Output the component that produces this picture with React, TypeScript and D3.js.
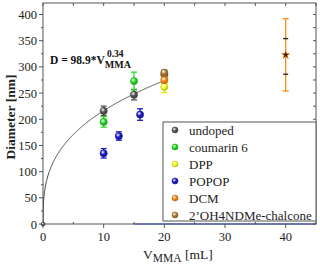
import React from 'react';
import * as d3 from 'd3';

const width = 320;
const height = 268;
const margin = {top: 3, right: 4, bottom: 44, left: 43};
const font = '"Liberation Serif", "Times New Roman", serif';

// series names and colors (legend order)
const seriesNames = ['undoped', 'coumarin 6', 'DPP', 'POPOP', 'DCM', '2\u2019OH4NDMe-chalcone'];
const seriesColors = ['#555555', '#22dd22', '#ffff22', '#1a1acc', '#ff8a10', '#b08030'];

// points: x = V_MMA [mL], y = diameter [nm], e = error
const undopedX = [0, 10, 15, 20];
const undopedY = [0, 216, 247, 285];
const undopedE = [0, 9, 10, 6];

const coumarinX = [10, 15];
const coumarinY = [195, 273];
const coumarinE = [10, 17];

const dppX = [20];
const dppY = [262];
const dppE = [11];

const popopX = [10, 12.5, 16];
const popopY = [135, 168, 209];
const popopE = [9, 8, 11];

const dcmX = [20, 40];
const dcmY = [275, 323];
const dcmE = [6, 69];

const chalconeX = [20];
const chalconeY = [289];
const chalconeE = [5];

// DCM at 40 mL box markers
const dcmBoxX = 40;
const dcmBox = [286, 354];

const xTicks = [0, 10, 20, 30, 40];
const yTicks = [0, 50, 100, 150, 200, 250, 300, 350, 400];

const fitA = 98.9;
const fitB = 0.34;

const series = [
  {x: undopedX, y: undopedY, e: undopedE},
  {x: coumarinX, y: coumarinY, e: coumarinE},
  {x: dppX, y: dppY, e: dppE},
  {x: popopX, y: popopY, e: popopE},
  {x: dcmX, y: dcmY, e: dcmE},
  {x: chalconeX, y: chalconeY, e: chalconeE},
];
// draw order so the ones on top in the picture come last
const drawOrder = [3, 0, 1, 2, 4, 5];

const xScale = d3.scaleLinear().domain([0, 45]).range([margin.left, width - margin.right]);
const yScale = d3.scaleLinear().domain([0, 422]).range([height - margin.bottom, margin.top]);

function Sphere({cx, cy, r, color, id}) {
  return <circle cx={cx} cy={cy} r={r} fill={`url(#g${id})`} stroke={d3.color(color).darker(0.8).toString()} strokeWidth={0.6} />;
}

export default function App() {
  const x0 = margin.left, x1 = width - margin.right;
  const y0 = height - margin.bottom, y1 = margin.top;

  const fitData = d3.range(0, 20.01, 0.05);
  const fitLine = d3.line()
    .x(d => xScale(d))
    .y(d => yScale(fitA * Math.pow(d, fitB)));

  const minorX = d3.range(0, 46, 5);
  const minorY = d3.range(0, 422, 25);

  return (
    <svg width={width} height={height} style={{position: 'absolute', left: 0, top: 0}} fontFamily={font}>
      <defs>
        {seriesColors.map((c, i) => (
          <radialGradient key={i} id={`g${i}`} cx="0.38" cy="0.35" r="0.7">
            <stop offset="0" stopColor="#ffffff" />
            <stop offset="0.45" stopColor={c} />
            <stop offset="1" stopColor={d3.color(c).darker(1).toString()} />
          </radialGradient>
        ))}
        <clipPath id="plot"><rect x={x0} y={y1} width={x1 - x0} height={y0 - y1} /></clipPath>
      </defs>

      {/* frame */}
      <rect x={x0} y={y1} width={x1 - x0} height={y0 - y1} fill="none" stroke="#555" strokeWidth={1} />
      <line x1={xScale(15)} x2={x1} y1={y0} y2={y0} stroke="#3344aa" strokeWidth={1} />

      {/* ticks */}
      {minorX.map(v => (
        <g key={'tx' + v}>
          {v % 10 === 0
            ? <line x1={xScale(v)} x2={xScale(v)} y1={y0} y2={y0 + 4} stroke="#555" />
            : <line x1={xScale(v)} x2={xScale(v)} y1={y0} y2={y0 - 2} stroke="#555" />}
          <line x1={xScale(v)} x2={xScale(v)} y1={y1} y2={y1 + 3} stroke="#555" />
        </g>
      ))}
      {minorY.map(v => (
        <g key={'ty' + v}>
          <line x1={x0} x2={x0 - (v % 50 === 0 ? 4 : 2)} y1={yScale(v)} y2={yScale(v)} stroke="#555" />
          <line x1={x1} x2={x1 - 3} y1={yScale(v)} y2={yScale(v)} stroke="#555" />
        </g>
      ))}
      {xTicks.map(v => (
        <text key={'lx' + v} x={xScale(v)} y={y0 + 17} fontSize={12.5} textAnchor="middle" fill="#222">{v}</text>
      ))}
      {yTicks.map(v => (
        <text key={'ly' + v} x={x0 - 6} y={yScale(v) + 4.5} fontSize={12.5} textAnchor="end" fill="#222">{v}</text>
      ))}

      {/* axis titles */}
      <text x={143} y={259} fontSize={13.5} fill="#222">
        V<tspan fontSize={11.5} dy={3}>MMA</tspan><tspan dy={-3}> [mL]</tspan>
      </text>
      <text transform={`translate(15, 117) rotate(-90)`} fontSize={13.5} fontWeight="bold" textAnchor="middle" fill="#222">Diameter [nm]</text>

      {/* fit */}
      <g clipPath="url(#plot)">
        <path d={fitLine(fitData)} fill="none" stroke="#444" strokeWidth={1} />
      </g>
      <text x={50} y={64} fontSize={11.5} fontWeight="bold" fill="#111">
        D = 98.9*V<tspan fontSize={10} dy={4}>MMA</tspan><tspan fontSize={9.5} dx={-24} dy={-11}>0.34</tspan>
      </text>

      {/* error bars + points */}
      {drawOrder.map(si => {
        const s = series[si];
        const c = seriesColors[si];
        return (
          <g key={'s' + si}>
            {s.x.map((xv, i) => {
              const cx = xScale(xv);
              const yt = yScale(s.y[i] + s.e[i]);
              const yb = yScale(s.y[i] - s.e[i]);
              const ec = si === 2 ? '#e8e800' : c;
              return (
                <g key={i}>
                  {s.e[i] > 0 && (
                    <g stroke={ec} strokeWidth={1.3}>
                      <line x1={cx} x2={cx} y1={yt} y2={yb} />
                      <line x1={cx - 3} x2={cx + 3} y1={yt} y2={yt} />
                      <line x1={cx - 3} x2={cx + 3} y1={yb} y2={yb} />
                    </g>
                  )}
                  {si === 4 && xv === dcmBoxX
                    ? null
                    : <Sphere cx={cx} cy={yScale(s.y[i])} r={xv === 0 ? 2 : 3.6} color={c} id={si} />}
                </g>
              );
            })}
          </g>
        );
      })}

      {/* DCM 40 mL box markers */}
      {dcmBox.map(v => (
        <line key={'b' + v} x1={xScale(dcmBoxX) - 2.5} x2={xScale(dcmBoxX) + 2.5} y1={yScale(v)} y2={yScale(v)} stroke="#222" strokeWidth={1.3} />
      ))}
      <path d={d3.symbol(d3.symbolStar, 22)()} transform={`translate(${xScale(dcmBoxX)}, ${yScale(dcmY[1])})`} fill="#332211" stroke="#ff8a10" strokeWidth={0.6} />

      {/* legend */}
      <rect x={163} y={122} width={x1 - 163} height={99} fill="#fff" stroke="#555" strokeWidth={1} />
      {seriesNames.map((n, i) => (
        <g key={'lg' + i} transform={`translate(0, ${130 + i * 17})`}>
          <Sphere cx={175} cy={0} r={3} color={seriesColors[i]} id={i} />
          <text x={189} y={4.5} fontSize={13} fill="#222">{n}</text>
        </g>
      ))}
    </svg>
  );
}
